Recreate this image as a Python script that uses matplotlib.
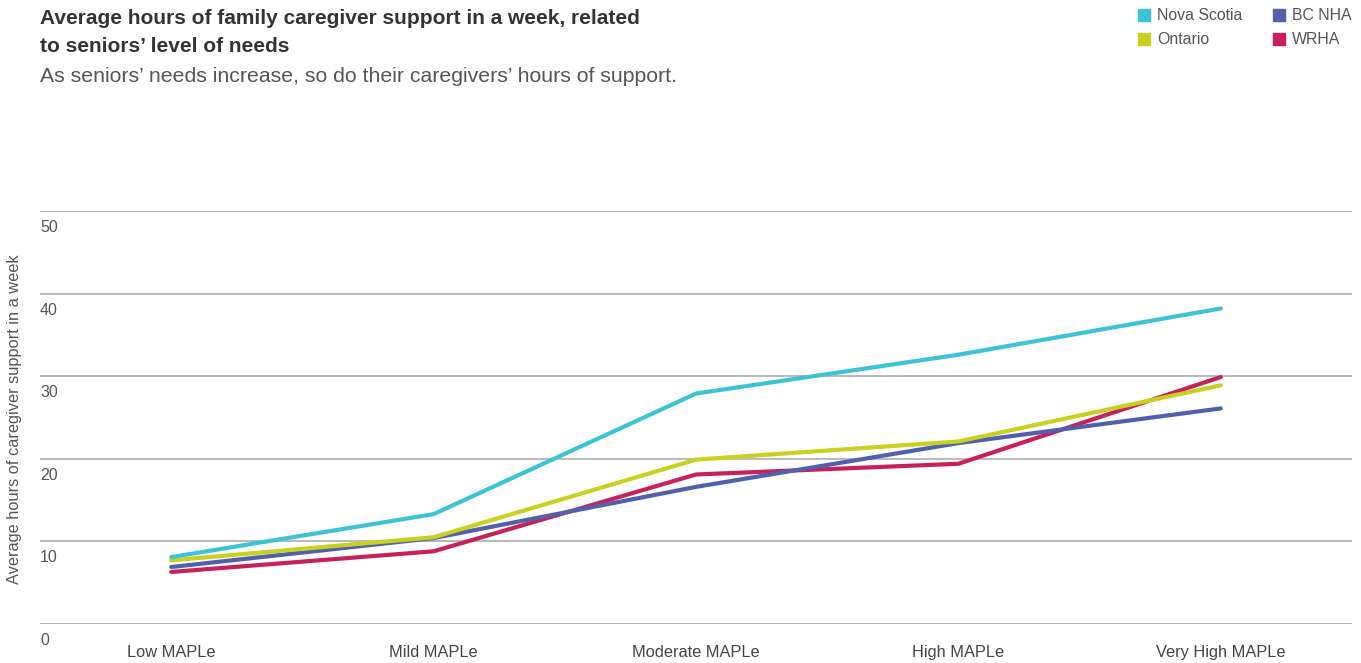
import matplotlib
matplotlib.use("Agg")
import matplotlib.pyplot as plt
from matplotlib.patches import Rectangle

plt.rcParams['font.family'] = ['Liberation Sans', 'DejaVu Sans']

# data
categories = ['Low MAPLe', 'Mild MAPLe', 'Moderate MAPLe', 'High MAPLe', 'Very High MAPLe']
nova_scotia = [8.1, 13.3, 27.9, 32.6, 38.2]
ontario = [7.7, 10.5, 19.9, 22.1, 28.9]
bc_nha = [6.9, 10.4, 16.6, 21.9, 26.1]
wrha = [6.3, 8.8, 18.1, 19.4, 29.9]

series_names = ['Nova Scotia', 'Ontario', 'BC NHA', 'WRHA']
series_values = [nova_scotia, ontario, bc_nha, wrha]
colors = ['#3cc4d6', '#c9d11f', '#5160ad', '#c8215a']
y_ticks = [0, 10, 20, 30, 40, 50]

fig = plt.figure(figsize=(13.61, 6.63), dpi=100)
ax = fig.add_axes([40 / 1361, 1 - 624 / 663, 1312 / 1361, 413 / 663])

x = list(range(len(categories)))
# draw in reverse so Nova Scotia sits on top
for vals, c in list(zip(series_values, colors))[::-1]:
    ax.plot(x, vals, color=c, lw=3.0, solid_capstyle='round', solid_joinstyle='miter', zorder=3)

ax.set_xlim(-0.5, 4.5)
ax.set_ylim(0, 50)
for yt in y_ticks:
    ax.axhline(yt, color='#a6a6a6', lw=1.1, zorder=1)
    ax.text(0, yt - 1.1, str(yt), transform=ax.get_yaxis_transform(),
            ha='left', va='top', fontsize=11.5, color='#555555')

ax.set_yticks([])
ax.set_xticks(x)
ax.set_xticklabels(categories, fontsize=11.8, color='#444444')
ax.tick_params(axis='x', length=0, pad=15)
for s in ax.spines.values():
    s.set_visible(False)

fig.text(15 / 1361, 1 - 419 / 663, 'Average hours of caregiver support in a week',
         rotation=90, ha='center', va='center', fontsize=11.8, color='#555555')

# title block
fig.text(40 / 1361, 1 - 18 / 663, 'Average hours of family caregiver support in a week, related',
         ha='left', va='center', fontsize=15, fontweight='bold', color='#333333')
fig.text(40 / 1361, 1 - 46 / 663, 'to seniors\u2019 level of needs',
         ha='left', va='center', fontsize=15, fontweight='bold', color='#333333')
fig.text(40 / 1361, 1 - 77 / 663, 'As seniors\u2019 needs increase, so do their caregivers\u2019 hours of support.',
         ha='left', va='center', fontsize=15.3, color='#555555')

# legend, two columns
leg_x = [1138, 1273]
leg_y = [15, 39]
for i, (name, c) in enumerate(zip(series_names, colors)):
    col = i // 2
    row = i % 2
    px, py = leg_x[col], leg_y[row]
    fig.patches.append(Rectangle((px / 1361, 1 - (py + 6) / 663), 12 / 1361, 12 / 663,
                                 transform=fig.transFigure, color=c))
    fig.text((px + 19) / 1361, 1 - py / 663, name, ha='left', va='center',
             fontsize=11.4, color='#555555')

fig.savefig('out.png', dpi=100)
